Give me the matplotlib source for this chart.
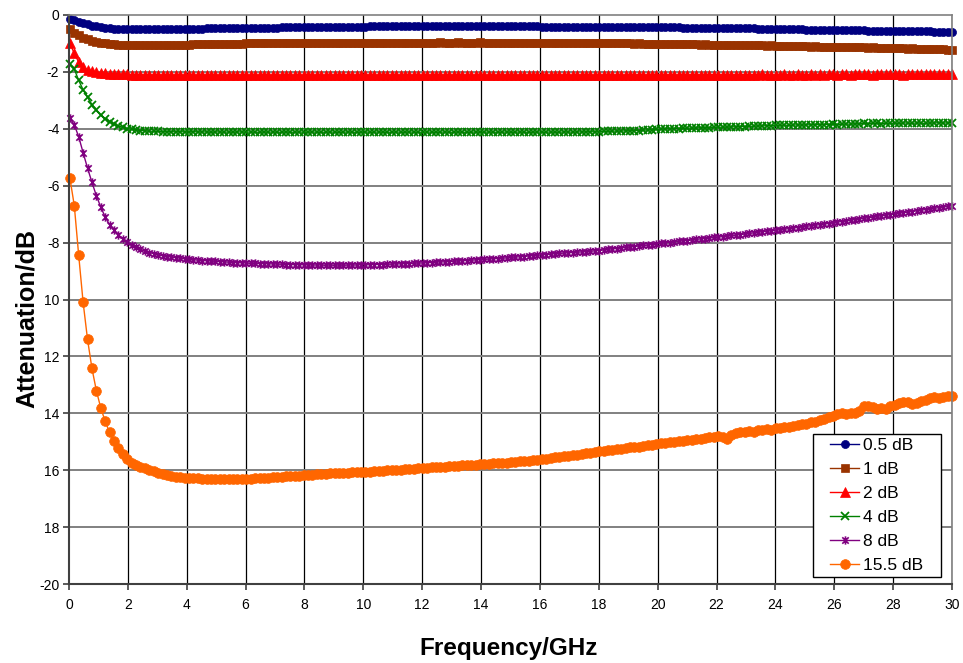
import numpy as np
import matplotlib
matplotlib.use("Agg")
import matplotlib.pyplot as plt
from matplotlib.path import Path
from matplotlib.patches import Rectangle

plt.rcParams['font.family'] = ['Liberation Sans', 'DejaVu Sans']

# frequency sweep (GHz): 201 uniformly spaced measurement points
f_start, f_stop, n_points = 0.03, 30.0, 201
freq = np.linspace(f_start, f_stop, n_points)

att_0p5 = [
    -0.15, -0.19, -0.24, -0.29, -0.33, -0.37, -0.40, -0.43, -0.45, -0.47, -0.48,
    -0.49, -0.49, -0.50, -0.50, -0.50, -0.50, -0.50, -0.50, -0.50, -0.50,
    -0.50, -0.50, -0.49, -0.49, -0.49, -0.49, -0.49, -0.48, -0.48, -0.48,
    -0.47, -0.47, -0.47, -0.46, -0.46, -0.46, -0.46, -0.45, -0.45, -0.45,
    -0.45, -0.45, -0.44, -0.44, -0.44, -0.44, -0.44, -0.43, -0.43, -0.43,
    -0.43, -0.43, -0.43, -0.42, -0.42, -0.42, -0.42, -0.42, -0.42, -0.42,
    -0.41, -0.41, -0.41, -0.41, -0.41, -0.41, -0.41, -0.40, -0.40, -0.40,
    -0.40, -0.40, -0.40, -0.40, -0.40, -0.40, -0.40, -0.40, -0.40, -0.40,
    -0.40, -0.40, -0.40, -0.40, -0.40, -0.40, -0.40, -0.40, -0.40, -0.40,
    -0.40, -0.40, -0.40, -0.40, -0.40, -0.40, -0.40, -0.40, -0.40, -0.40,
    -0.40, -0.40, -0.40, -0.40, -0.40, -0.40, -0.41, -0.41, -0.41, -0.41,
    -0.41, -0.41, -0.41, -0.41, -0.41, -0.41, -0.41, -0.41, -0.41, -0.41,
    -0.41, -0.41, -0.41, -0.42, -0.42, -0.42, -0.42, -0.42, -0.42, -0.42,
    -0.42, -0.42, -0.42, -0.43, -0.43, -0.43, -0.43, -0.43, -0.44, -0.44,
    -0.44, -0.44, -0.44, -0.45, -0.45, -0.45, -0.45, -0.46, -0.46, -0.46,
    -0.46, -0.47, -0.47, -0.47, -0.47, -0.48, -0.48, -0.48, -0.49, -0.49,
    -0.49, -0.49, -0.50, -0.50, -0.50, -0.50, -0.51, -0.51, -0.51, -0.52,
    -0.52, -0.52, -0.53, -0.53, -0.53, -0.53, -0.54, -0.54, -0.54, -0.54,
    -0.55, -0.55, -0.55, -0.55, -0.55, -0.56, -0.56, -0.56, -0.56, -0.56,
    -0.57, -0.57, -0.57, -0.57, -0.57, -0.58, -0.58, -0.58, -0.58, -0.58,
]

att_1 = [
    -0.50, -0.62, -0.72, -0.80, -0.86, -0.91, -0.95, -0.98, -1.00, -1.02, -1.03,
    -1.04, -1.04, -1.05, -1.05, -1.05, -1.05, -1.05, -1.05, -1.05, -1.05,
    -1.05, -1.04, -1.04, -1.04, -1.04, -1.04, -1.04, -1.03, -1.03, -1.03,
    -1.03, -1.03, -1.02, -1.02, -1.02, -1.02, -1.01, -1.01, -1.01, -1.00,
    -1.00, -1.00, -1.00, -1.00, -0.99, -0.99, -0.99, -0.99, -0.99, -0.99,
    -0.99, -0.99, -0.98, -0.98, -0.98, -0.98, -0.98, -0.98, -0.98, -0.98,
    -0.98, -0.97, -0.98, -0.98, -0.97, -0.98, -0.97, -0.98, -0.97, -0.97,
    -0.97, -0.98, -0.97, -0.97, -0.98, -0.97, -0.97, -0.97, -0.98, -0.97,
    -0.97, -0.97, -0.97, -0.96, -0.97, -0.97, -0.97, -0.96, -0.97, -0.97,
    -0.97, -0.97, -0.96, -0.97, -0.97, -0.97, -0.97, -0.97, -0.98, -0.97,
    -0.97, -0.98, -0.97, -0.98, -0.98, -0.97, -0.98, -0.98, -0.98, -0.98,
    -0.98, -0.99, -0.98, -0.98, -0.99, -0.99, -0.98, -0.99, -0.99, -0.99,
    -0.99, -1.00, -0.99, -1.00, -1.00, -1.00, -1.00, -1.01, -1.00, -1.01,
    -1.01, -1.01, -1.02, -1.01, -1.02, -1.02, -1.02, -1.03, -1.02, -1.03,
    -1.03, -1.03, -1.04, -1.03, -1.04, -1.04, -1.05, -1.04, -1.05, -1.05,
    -1.06, -1.05, -1.06, -1.06, -1.07, -1.06, -1.07, -1.08, -1.07, -1.08,
    -1.08, -1.09, -1.08, -1.09, -1.10, -1.09, -1.10, -1.11, -1.10, -1.11,
    -1.11, -1.12, -1.11, -1.12, -1.13, -1.12, -1.13, -1.14, -1.13, -1.14,
    -1.15, -1.14, -1.15, -1.16, -1.15, -1.16, -1.17, -1.16, -1.17, -1.18,
    -1.17, -1.18, -1.19, -1.18, -1.19, -1.20, -1.21, -1.20, -1.22, -1.23,
]

att_2 = [
    -1.00, -1.35, -1.66, -1.84, -1.93, -1.98, -2.01, -2.03, -2.05, -2.06, -2.07,
    -2.08, -2.09, -2.09, -2.10, -2.10, -2.10, -2.11, -2.11, -2.11, -2.11,
    -2.11, -2.11, -2.12, -2.11, -2.11, -2.12, -2.11, -2.11, -2.12, -2.11,
    -2.11, -2.12, -2.11, -2.12, -2.11, -2.11, -2.12, -2.11, -2.11, -2.12,
    -2.11, -2.12, -2.11, -2.11, -2.12, -2.11, -2.12, -2.11, -2.11, -2.12,
    -2.11, -2.11, -2.12, -2.11, -2.12, -2.11, -2.11, -2.12, -2.11, -2.11,
    -2.12, -2.11, -2.11, -2.12, -2.11, -2.12, -2.11, -2.11, -2.12, -2.11,
    -2.11, -2.12, -2.11, -2.12, -2.11, -2.11, -2.12, -2.11, -2.11, -2.12,
    -2.11, -2.11, -2.12, -2.11, -2.11, -2.12, -2.11, -2.12, -2.11, -2.11,
    -2.12, -2.11, -2.11, -2.12, -2.11, -2.11, -2.12, -2.11, -2.11, -2.11,
    -2.12, -2.11, -2.11, -2.11, -2.12, -2.11, -2.11, -2.11, -2.12, -2.11,
    -2.11, -2.11, -2.11, -2.12, -2.11, -2.11, -2.11, -2.11, -2.12, -2.11,
    -2.11, -2.11, -2.11, -2.11, -2.12, -2.11, -2.11, -2.11, -2.10, -2.11,
    -2.11, -2.11, -2.10, -2.11, -2.11, -2.10, -2.11, -2.11, -2.10, -2.11,
    -2.10, -2.11, -2.10, -2.11, -2.10, -2.10, -2.11, -2.10, -2.10, -2.11,
    -2.10, -2.10, -2.10, -2.11, -2.10, -2.10, -2.09, -2.10, -2.10, -2.11,
    -2.10, -2.09, -2.10, -2.10, -2.09, -2.10, -2.11, -2.09, -2.10, -2.09,
    -2.10, -2.09, -2.09, -2.10, -2.09, -2.08, -2.10, -2.09, -2.09, -2.08,
    -2.09, -2.10, -2.08, -2.09, -2.09, -2.08, -2.09, -2.08, -2.10, -2.08,
    -2.08, -2.09, -2.08, -2.08, -2.09, -2.08, -2.07, -2.08, -2.08, -2.07,
]

att_4 = [
    -1.73, -1.90, -2.30, -2.63, -2.89, -3.15, -3.35, -3.52, -3.64, -3.75, -3.84,
    -3.90, -3.95, -3.99, -4.02, -4.04, -4.06, -4.07, -4.08, -4.09, -4.09,
    -4.10, -4.10, -4.10, -4.11, -4.10, -4.11, -4.11, -4.10, -4.11, -4.11,
    -4.11, -4.12, -4.11, -4.11, -4.12, -4.11, -4.12, -4.11, -4.11, -4.12,
    -4.11, -4.12, -4.12, -4.11, -4.12, -4.11, -4.12, -4.12, -4.11, -4.12,
    -4.12, -4.11, -4.12, -4.12, -4.11, -4.12, -4.12, -4.12, -4.11, -4.12,
    -4.12, -4.12, -4.11, -4.12, -4.12, -4.12, -4.11, -4.12, -4.12, -4.11,
    -4.12, -4.12, -4.12, -4.11, -4.12, -4.12, -4.11, -4.12, -4.12, -4.12,
    -4.11, -4.12, -4.12, -4.12, -4.11, -4.12, -4.12, -4.11, -4.12, -4.12,
    -4.12, -4.11, -4.12, -4.12, -4.11, -4.12, -4.12, -4.12, -4.11, -4.12,
    -4.12, -4.11, -4.12, -4.12, -4.12, -4.11, -4.12, -4.12, -4.11, -4.12,
    -4.12, -4.11, -4.11, -4.12, -4.11, -4.11, -4.11, -4.10, -4.11, -4.10,
    -4.09, -4.09, -4.08, -4.08, -4.08, -4.07, -4.07, -4.06, -4.06, -4.05,
    -4.04, -4.03, -4.02, -4.01, -4.00, -4.00, -3.99, -3.99, -3.98, -3.98,
    -3.97, -3.97, -3.96, -3.96, -3.96, -3.95, -3.95, -3.94, -3.94, -3.93,
    -3.93, -3.92, -3.92, -3.91, -3.91, -3.90, -3.90, -3.89, -3.89, -3.88,
    -3.88, -3.87, -3.88, -3.87, -3.86, -3.87, -3.86, -3.86, -3.85, -3.86,
    -3.85, -3.85, -3.84, -3.85, -3.84, -3.83, -3.84, -3.82, -3.83, -3.81,
    -3.82, -3.80, -3.81, -3.82, -3.80, -3.81, -3.80, -3.81, -3.79, -3.80,
    -3.81, -3.79, -3.80, -3.81, -3.79, -3.80, -3.78, -3.80, -3.79, -3.78,
]

att_8 = [
    -3.63, -3.86, -4.28, -4.84, -5.38, -5.88, -6.35, -6.75, -7.10, -7.37, -7.57,
    -7.73, -7.87, -7.99, -8.09, -8.17, -8.24, -8.30, -8.35, -8.39, -8.43,
    -8.46, -8.49, -8.51, -8.53, -8.55, -8.57, -8.59, -8.60, -8.62, -8.63,
    -8.64, -8.65, -8.66, -8.67, -8.68, -8.69, -8.70, -8.71, -8.71, -8.72,
    -8.73, -8.73, -8.74, -8.74, -8.75, -8.75, -8.76, -8.76, -8.77, -8.77,
    -8.78, -8.78, -8.78, -8.79, -8.79, -8.79, -8.79, -8.80, -8.79, -8.80,
    -8.79, -8.80, -8.79, -8.79, -8.79, -8.78, -8.78, -8.78, -8.77, -8.77,
    -8.77, -8.76, -8.76, -8.75, -8.75, -8.74, -8.74, -8.73, -8.72, -8.72,
    -8.71, -8.70, -8.69, -8.68, -8.68, -8.67, -8.66, -8.65, -8.64, -8.63,
    -8.62, -8.61, -8.60, -8.59, -8.58, -8.57, -8.56, -8.55, -8.54, -8.52,
    -8.51, -8.50, -8.49, -8.47, -8.46, -8.45, -8.43, -8.42, -8.41, -8.39,
    -8.38, -8.37, -8.36, -8.35, -8.34, -8.33, -8.32, -8.31, -8.29, -8.28,
    -8.26, -8.24, -8.22, -8.21, -8.19, -8.17, -8.16, -8.14, -8.12, -8.10,
    -8.09, -8.07, -8.05, -8.03, -8.01, -8.00, -7.98, -7.96, -7.94, -7.93,
    -7.91, -7.89, -7.87, -7.86, -7.84, -7.82, -7.81, -7.79, -7.77, -7.75,
    -7.74, -7.72, -7.70, -7.68, -7.66, -7.64, -7.62, -7.60, -7.59, -7.57,
    -7.55, -7.53, -7.51, -7.49, -7.47, -7.45, -7.43, -7.41, -7.39, -7.37,
    -7.35, -7.33, -7.31, -7.28, -7.26, -7.24, -7.22, -7.19, -7.17, -7.15,
    -7.13, -7.11, -7.08, -7.06, -7.04, -7.02, -6.99, -6.97, -6.95, -6.93,
    -6.91, -6.88, -6.86, -6.84, -6.82, -6.80, -6.77, -6.75, -6.73, -6.71,
]

att_15p5 = [
    -5.73, -6.70, -8.45, -10.10, -11.40, -12.42, -13.20, -13.81, -14.28, -14.67,
    -14.97, -15.21, -15.42, -15.60, -15.73, -15.82, -15.88, -15.93, -15.98, -16.04,
    -16.09, -16.13, -16.17, -16.20, -16.23, -16.25, -16.27, -16.28, -16.28, -16.29,
    -16.30, -16.31, -16.31, -16.32, -16.32, -16.32, -16.32, -16.32, -16.31, -16.31,
    -16.30, -16.30, -16.29, -16.28, -16.27, -16.26, -16.25, -16.24, -16.23, -16.22,
    -16.21, -16.20, -16.19, -16.18, -16.17, -16.16, -16.14, -16.13, -16.12, -16.11,
    -16.11, -16.10, -16.10, -16.09, -16.08, -16.08, -16.07, -16.06, -16.05, -16.04,
    -16.03, -16.02, -16.01, -16.00, -15.99, -15.98, -15.97, -15.96, -15.95, -15.94,
    -15.92, -15.91, -15.90, -15.89, -15.88, -15.87, -15.86, -15.85, -15.84, -15.83,
    -15.82, -15.81, -15.80, -15.79, -15.78, -15.77, -15.76, -15.75, -15.74, -15.73,
    -15.72, -15.71, -15.69, -15.68, -15.66, -15.64, -15.63, -15.61, -15.59, -15.57,
    -15.55, -15.53, -15.51, -15.49, -15.47, -15.45, -15.43, -15.41, -15.38, -15.36,
    -15.33, -15.32, -15.30, -15.28, -15.26, -15.24, -15.22, -15.20, -15.18, -15.17,
    -15.14, -15.13, -15.10, -15.09, -15.06, -15.05, -15.02, -15.00, -14.99, -14.96,
    -14.94, -14.93, -14.90, -14.89, -14.88, -14.85, -14.83, -14.80, -14.82, -14.92,
    -14.76, -14.70, -14.66, -14.64, -14.62, -14.65, -14.60, -14.58, -14.55, -14.57,
    -14.52, -14.50, -14.47, -14.49, -14.44, -14.40, -14.38, -14.36, -14.32, -14.30,
    -14.25, -14.20, -14.14, -14.08, -14.02, -14.00, -14.02, -14.00, -13.98, -13.93,
    -13.75, -13.73, -13.78, -13.84, -13.80, -13.85, -13.76, -13.70, -13.63, -13.60,
    -13.62, -13.66, -13.64, -13.58, -13.52, -13.46, -13.43, -13.45, -13.42, -13.40,
    -13.38,
]

series_labels = ["0.5 dB", "1 dB", "2 dB", "4 dB", "8 dB", "15.5 dB"]
series_values = [att_0p5, att_1, att_2, att_4, att_8, att_15p5]
series_colors = ["#000080", "#993300", "#FF0000", "#008000", "#800080", "#FF6600"]

x_ticks = list(range(0, 31, 2))
y_ticks = [0, -2, -4, -6, -8, -10, -12, -14, -16, -18, -20]
y_tick_labels = ["0", "-2", "-4", "-6", "-8", "10", "12", "14", "16", "18", "-20"]

# Excel-style star marker (x with a vertical bar)
star = Path([(-1, -1), (1, 1), (-1, 1), (1, -1), (0, -1.3), (0, 1.3)],
            [Path.MOVETO, Path.LINETO, Path.MOVETO, Path.LINETO, Path.MOVETO, Path.LINETO])

styles = [
    dict(marker="o", ms=5.8, mew=0.5),
    dict(marker="s", ms=5.4, mew=0.5),
    dict(marker="^", ms=7.0, mew=0.5),
    dict(marker="x", ms=5.6, mew=1.3),
    dict(marker=star, ms=6.0, mew=1.2),
    dict(marker="o", ms=7.0, mew=0.5),
]

fig = plt.figure(figsize=(9.63, 6.63), dpi=100)
ax = fig.add_axes([69 / 963, 1 - 584 / 663, (952 - 69) / 963, (584 - 15) / 663])

for lab, vals, col, st in zip(series_labels, series_values, series_colors, styles):
    ax.plot(freq, vals, color=col, lw=1.0, label=lab,
            markerfacecolor=col, markeredgecolor=col, clip_on=False, **st)

ax.set_xlim(0, 30)
ax.set_ylim(-20, 0)
ax.set_xticks(x_ticks)
ax.set_yticks(y_ticks)
ax.set_yticklabels(y_tick_labels)

for xt in x_ticks[1:]:
    ax.axvline(xt, color="#000000", lw=0.9, zorder=0)
for yt in y_ticks[1:-1]:
    ax.axhline(yt, color="#808080", lw=1.4, zorder=0)

for side in ["top", "right"]:
    ax.spines[side].set_color("#808080")
    ax.spines[side].set_linewidth(1.2)
for side in ["left", "bottom"]:
    ax.spines[side].set_color("#404040")
    ax.spines[side].set_linewidth(1.5)

ax.tick_params(axis="both", direction="out", length=4, width=1.2, color="#404040",
               labelsize=10, labelcolor="#000000")
ax.tick_params(axis="x", pad=6)
ax.tick_params(axis="y", pad=3)

ax.set_xlabel("Frequency/GHz", fontsize=17.5, fontweight="bold")
ax.set_ylabel("Attenuation/dB", fontsize=18, fontweight="bold")
ax.xaxis.set_label_coords((509 - 69) / 883, (584 - 648) / 569)
ax.xaxis.label.set_va("center")
ax.yaxis.set_label_coords((27 - 69) / 883, (584 - 319) / 569)
ax.yaxis.label.set_va("center")

# legend box (frame drawn separately to match the reference box size)
bx0, bx1 = (813 - 69) / 883, (941 - 69) / 883
by0, by1 = (584 - 577) / 569, (584 - 434) / 569
ax.add_patch(Rectangle((bx0, by0), bx1 - bx0, by1 - by0, transform=ax.transAxes,
                       facecolor="white", edgecolor="#000000", lw=1.0, zorder=5,
                       clip_on=False))
leg = ax.legend(loc="center", bbox_to_anchor=((bx0 + bx1) / 2, (by0 + by1) / 2),
                fontsize=12.5, frameon=False, handlelength=1.65, handletextpad=0.25,
                labelspacing=0.5, borderpad=0.0, borderaxespad=0)
leg.set_zorder(6)

fig.savefig("out.png", dpi=100)
